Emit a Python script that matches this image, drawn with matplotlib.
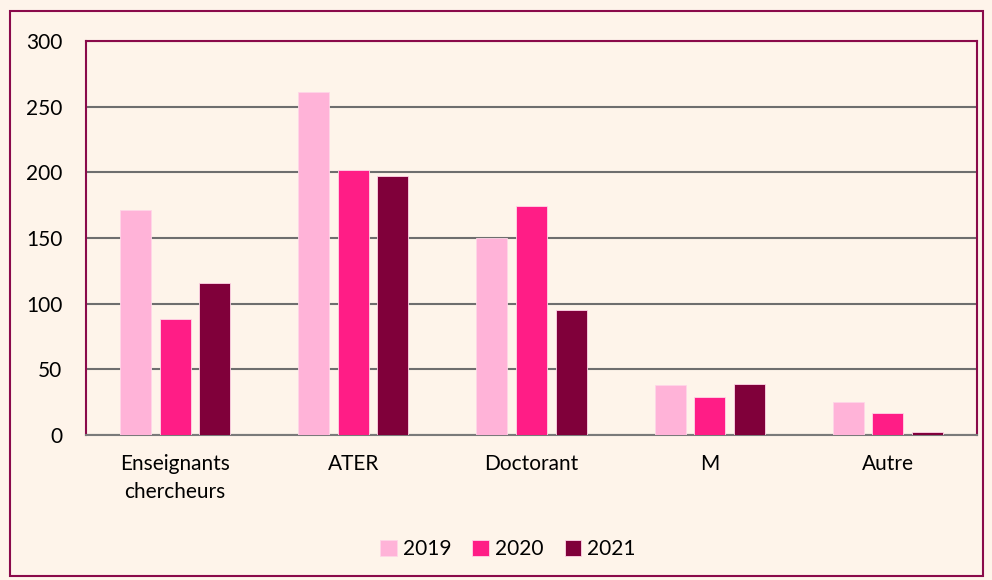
import matplotlib
matplotlib.use("Agg")
import matplotlib.pyplot as plt
from matplotlib.patches import Rectangle
import numpy as np

categories = ["Enseignants\nchercheurs", "ATER", "Doctorant", "M", "Autre"]
years = ["2019", "2020", "2021"]
v2019 = [171, 261, 150, 38, 25]
v2020 = [88, 202, 174, 29, 17]
v2021 = [116, 197, 95, 39, 2]
yticks = [0, 50, 100, 150, 200, 250, 300]

colors = ["#FFB3D8", "#FF1D86", "#80003A"]
bg = "#FEF4EA"
maroon = "#8A0A4A"

plt.rcParams['font.family'] = ['Lato', 'DejaVu Sans']

fig = plt.figure(figsize=(9.92, 5.8), dpi=100)
fig.patch.set_facecolor(bg)
fig.patches.append(Rectangle((10/992, 1-576/580), 973/992, 565/580, transform=fig.transFigure,
                             fill=False, edgecolor=maroon, linewidth=1.5))
ax = fig.add_axes([86/992, 1-435/580, 891/992, 394/580])
ax.set_facecolor(bg)

x = np.arange(len(categories))
w = 0.174
step = 0.222
for i, (vals, c) in enumerate(zip([v2019, v2020, v2021], colors)):
    ax.bar(x + (i-1)*step, vals, width=w, color=c, edgecolor="#FFD6E8", linewidth=0.6,
           label=years[i], zorder=3)

ax.set_xlim(-0.5, len(categories)-0.5)
ax.set_ylim(0, 300)
ax.set_yticks(yticks)
ax.yaxis.grid(True, color="#6E6E6E", linewidth=1.5, zorder=1)
ax.set_axisbelow(True)
ax.tick_params(axis='both', length=0, labelsize=15)
ax.tick_params(axis='y', pad=17)
ax.tick_params(axis='x', pad=14)
ax.set_xticks(x)
ax.set_xticklabels(categories, linespacing=1.45)
for s in ['left', 'top', 'right']:
    ax.spines[s].set_color(maroon)
    ax.spines[s].set_linewidth(1.5)
ax.spines['bottom'].set_color("#7A7A7A")
ax.spines['bottom'].set_linewidth(1.5)

leg = fig.legend(loc='center', bbox_to_anchor=(508/992, 1-549/580), ncol=3, frameon=False,
                 fontsize=15, handlelength=0.8, handleheight=0.8, handletextpad=0.3,
                 columnspacing=1.0)

fig.savefig("out.png", dpi=100, facecolor=bg)
